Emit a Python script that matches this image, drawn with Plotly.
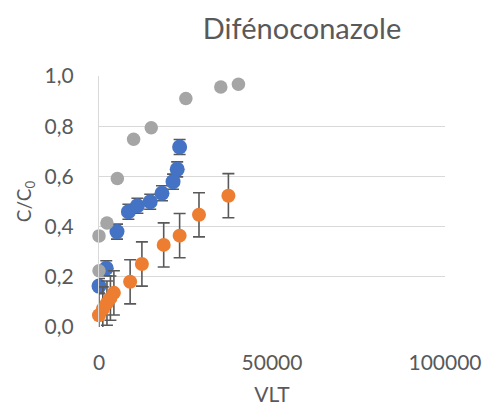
import plotly.graph_objects as go

# Series 1 (blue) with error bars
blue_x = [0, 2100, 5200, 8500, 11100, 14800, 18200, 21400, 22600, 23300]
blue_y = [0.163, 0.234, 0.380, 0.459, 0.483, 0.499, 0.533, 0.579, 0.628, 0.717]
blue_err = [0.03] * len(blue_x)

# Series 2 (orange) with error bars
orange_x = [0, 1100, 2300, 3300, 4300, 9000, 12400, 18700, 23300, 28900, 37400]
orange_y = [0.047, 0.072, 0.095, 0.115, 0.136, 0.180, 0.251, 0.327, 0.364, 0.447, 0.523]
orange_err = [0.088] * len(orange_x)

# Series 3 (gray), no error bars
gray_x = [0, 0, 2300, 5300, 10000, 15100, 25100, 35200, 40300]
gray_y = [0.363, 0.224, 0.414, 0.592, 0.748, 0.794, 0.910, 0.956, 0.967]

y_tickvals = [0.0, 0.2, 0.4, 0.6, 0.8, 1.0]
y_ticktext = ["0,0", "0,2", "0,4", "0,6", "0,8", "1,0"]
x_tickvals = [0, 50000, 100000]
x_ticktext = ["0", "50000", "100000"]

BLUE = "#4472C4"
ORANGE = "#ED7D31"
GRAY = "#A5A5A5"
ERR = "#595959"
TXT = "#595959"
GRID = "#D9D9D9"
FONT = "Lato, 'Open Sans', sans-serif"

fig = go.Figure()

def add_series(x, y, color, size, err=None):
    if err is not None:
        fig.add_trace(go.Scatter(
            x=x, y=y, mode="markers",
            marker=dict(size=size, color="rgba(0,0,0,0)"),
            error_y=dict(type="data", array=err, visible=True,
                         color=ERR, thickness=1.6, width=6),
            cliponaxis=True, showlegend=False, hoverinfo="skip"))
    fig.add_trace(go.Scatter(
        x=x, y=y, mode="markers",
        marker=dict(size=size, color=color, line=dict(width=0)),
        cliponaxis=False, showlegend=False))

add_series(blue_x, blue_y, BLUE, 15, blue_err)
add_series(orange_x, orange_y, ORANGE, 14, orange_err)
add_series(gray_x, gray_y, GRAY, 13.5)

fig.update_layout(
    width=484, height=414,
    margin=dict(l=99, r=39, t=76, b=87, autoexpand=False),
    paper_bgcolor="white", plot_bgcolor="white",
    font=dict(family=FONT, color=TXT, size=21),
    title=dict(text="Difénoconazole", x=0.624, xanchor="center",
               y=0.93, yanchor="middle",
               font=dict(family=FONT, size=29, color=TXT)),
    showlegend=False,
)

fig.update_xaxes(
    range=[0, 100000], tickvals=x_tickvals, ticktext=x_ticktext,
    showgrid=False, zeroline=False, showline=False, automargin=False,
    ticks="outside", ticklen=17, tickcolor="rgba(0,0,0,0)",
    title=dict(text="VLT", standoff=14, font=dict(size=21, color=TXT)),
    tickfont=dict(size=21, color=TXT),
)
fig.update_yaxes(
    range=[0, 1.0], tickvals=y_tickvals, ticktext=y_ticktext,
    showgrid=True, gridcolor=GRID, gridwidth=1.3, automargin=False,
    zeroline=False, showline=True, linecolor=GRID, linewidth=1.3,
    ticks="outside", ticklen=20, tickcolor="rgba(0,0,0,0)",
    title=dict(text="C/C<sub>0</sub>", standoff=7, font=dict(size=19, color=TXT)),
    tickfont=dict(size=21, color=TXT),
)

fig.write_html("out.html", config={"displayModeBar": False},
               post_script="document.body.style.margin='0';document.body.style.padding='0';")
